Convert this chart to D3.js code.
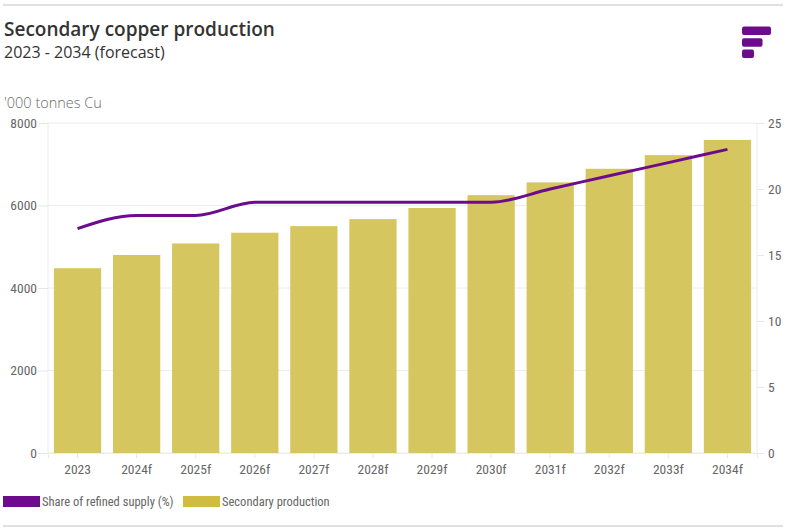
<!DOCTYPE html>
<html>
<head>
<meta charset="utf-8">
<script src="https://cdn.jsdelivr.net/npm/d3@7"></script>
<style>
  body { margin: 0; background: #fff; font-family: "Open Sans", sans-serif; }
  .axis text { fill: #666; font-size: 13.5px; font-family: "Liberation Sans Narrow", "Roboto Condensed", sans-serif; }
  .legend text { fill: #666; font-size: 12.5px; font-family: "Liberation Sans Narrow", "Roboto Condensed", sans-serif; }
</style>
</head>
<body>
<div id="chart"></div>
<script>
// Data
const years = ["2023", "2024f", "2025f", "2026f", "2027f", "2028f", "2029f", "2030f", "2031f", "2032f", "2033f", "2034f"];
const production = [4480, 4800, 5080, 5340, 5500, 5670, 5940, 6250, 6560, 6890, 7220, 7590];
const sharePct = [17, 18, 18, 19, 19, 19, 19, 19, 20, 21, 22, 23];
const leftTicks = [0, 2000, 4000, 6000, 8000];
const rightTicks = [0, 5, 10, 15, 20, 25];

const W = 789, H = 530;
const margin = { top: 123, right: 32, bottom: 77, left: 48 };
const width = W - margin.left - margin.right;
const height = H - margin.top - margin.bottom;

const barColor = "#d6c65f";
const lineColor = "#6c0c8c";

const root = d3.select("#chart").append("svg")
    .attr("width", W)
    .attr("height", H);

// Frame lines top and bottom
root.append("rect").attr("x", 3).attr("y", 4).attr("width", 780).attr("height", 2).attr("fill", "#e0e0e0");
root.append("rect").attr("x", 3).attr("y", 525).attr("width", 780).attr("height", 2).attr("fill", "#e0e0e0");

// Titles
root.append("text")
    .attr("x", 4).attr("y", 36)
    .attr("fill", "#333")
    .style("font-size", "19px")
    .style("font-weight", 600)
    .text("Secondary copper production");

root.append("text")
    .attr("x", 4).attr("y", 58)
    .attr("fill", "#333")
    .style("font-size", "16px")
    .text("2023 - 2034 (forecast)");

root.append("text")
    .attr("x", 4).attr("y", 108)
    .attr("fill", "#6a6a6a")
    .style("font-size", "14.5px")
    .style("font-weight", 300)
    .text("'000 tonnes Cu");

// Logo
const logo = root.append("g").attr("fill", lineColor);
[[742, 26.5, 29], [742, 38.3, 20.5], [742, 49.5, 12]].forEach(([x, y, w]) => {
    logo.append("rect").attr("x", x).attr("y", y).attr("width", w).attr("height", 8.5)
        .attr("rx", 2).attr("ry", 2);
});

const svg = root.append("g")
    .attr("transform", `translate(${margin.left},${margin.top})`);

// Scales
const x = d3.scaleBand()
    .domain(years)
    .range([0, width])
    .paddingInner(0.2)
    .paddingOuter(0.1);

const yLeft = d3.scaleLinear().domain([0, 8000]).range([height, 0]);
const yRight = d3.scaleLinear().domain([0, 25]).range([height, 0]);

// Gridlines
svg.append("g")
    .selectAll("line")
    .data(leftTicks)
    .enter().append("line")
    .attr("x1", 0).attr("x2", width)
    .attr("y1", d => yLeft(d)).attr("y2", d => yLeft(d))
    .attr("stroke", "#ececec");

// Plot borders (left/right)
svg.append("line").attr("x1", 0).attr("x2", 0).attr("y1", 0).attr("y2", height).attr("stroke", "#ececec");
svg.append("line").attr("x1", width).attr("x2", width).attr("y1", 0).attr("y2", height).attr("stroke", "#ececec");

// Axes
const leftAxis = svg.append("g").attr("class", "axis")
    .call(d3.axisLeft(yLeft).tickValues(leftTicks).tickFormat(d3.format("d")).tickSize(10).tickPadding(1));
leftAxis.select(".domain").remove();
leftAxis.selectAll(".tick line").attr("stroke", "#e6e6e6");

const rightAxis = svg.append("g").attr("class", "axis")
    .attr("transform", `translate(${width},0)`)
    .call(d3.axisRight(yRight).tickValues(rightTicks).tickSize(7).tickPadding(4));
rightAxis.select(".domain").remove();
rightAxis.selectAll(".tick line").attr("stroke", "#e6e6e6");

const bottomAxis = svg.append("g").attr("class", "axis")
    .attr("transform", `translate(0,${height})`)
    .call(d3.axisBottom(x).tickSize(5).tickPadding(6));
bottomAxis.select(".domain").attr("stroke", "#ececec");
bottomAxis.selectAll(".tick line").attr("stroke", "#e6e6e6");

// Bars
svg.selectAll(".bar")
    .data(years)
    .enter().append("rect")
    .attr("class", "bar")
    .attr("x", d => x(d))
    .attr("y", (d, i) => yLeft(production[i]))
    .attr("width", x.bandwidth())
    .attr("height", (d, i) => height - yLeft(production[i]))
    .attr("fill", barColor);

// Line
const line = d3.line()
    .x((d, i) => x(years[i]) + x.bandwidth() / 2)
    .y(d => yRight(d))
    .curve(d3.curveMonotoneX);

svg.append("path")
    .datum(sharePct)
    .attr("fill", "none")
    .attr("stroke", lineColor)
    .attr("stroke-width", 3)
    .attr("d", line);

// Legend
const legend = root.append("g").attr("class", "legend");
const items = [
    { label: "Share of refined supply (%)", color: lineColor, x: 3 },
    { label: "Secondary production", color: "#d1bc42", x: 183 }
];
items.forEach(it => {
    legend.append("rect")
        .attr("x", it.x).attr("y", 496)
        .attr("width", 37).attr("height", 11)
        .attr("fill", it.color);
    legend.append("text")
        .attr("x", it.x + 39).attr("y", 506)
        .text(it.label);
});
</script>
</body>
</html>
